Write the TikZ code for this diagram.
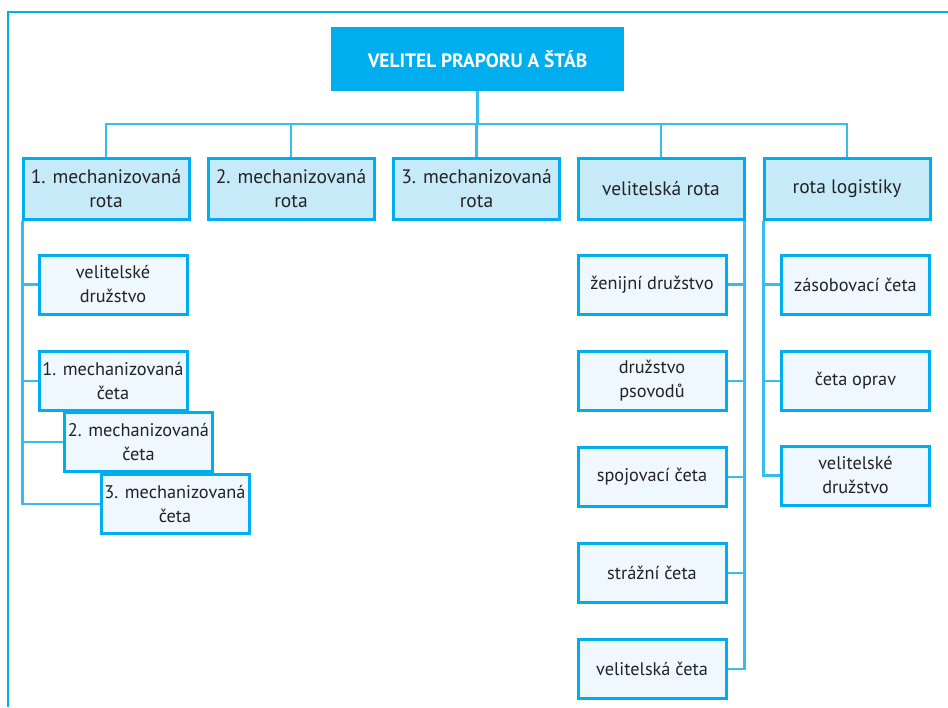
\documentclass[tikz,border=0pt]{standalone}
\usepackage{fontspec}
\setmainfont{PT Sans}
\usetikzlibrary{positioning}
\definecolor{chartCyan}{RGB}{0,174,239}
\definecolor{linkCyan}{RGB}{55,188,240}
\definecolor{unitFill}{RGB}{199,234,249}
\definecolor{subFill}{RGB}{239,248,254}
\definecolor{textGray}{RGB}{35,35,38}
\tikzstyle{orgChart} = [x = 1pt, y = -1pt, every node/.style={inner sep=0pt, align=center, text=textGray}]
\tikzstyle{topBox} = [fill=chartCyan, minimum width=293pt, minimum height=64pt, text=white, font=\fontsize{19.4}{23}\selectfont\bfseries]
\tikzstyle{unitBox} = [draw=chartCyan, fill=unitFill, line width=3pt, minimum width=166pt, minimum height=61pt, font=\fontsize{19.5}{24}\selectfont]
\tikzstyle{subBox} = [draw=chartCyan, fill=subFill, line width=3pt, minimum width=148pt, minimum height=59pt, font=\fontsize{18.3}{24}\selectfont]
\tikzstyle{linkLine} = [color=linkCyan, line width=2.1pt]
\tikzstyle{frameLine} = [color=chartCyan, line width=2.5pt]
\newcommand{\busY}{124}
\begin{document}
\begin{tikzpicture}[orgChart]
  \useasboundingbox (0,0) rectangle (948,707);
  \draw [frameLine] (8,707) -- (8,12) -- (948,12);

  % battalion and companies
  \node [topBox] (top) at (477.5,59) {VELITEL PRAPORU A ŠTÁB};
  \node [unitBox] (r1) at (106,188.5) {1. mechanizovaná\\rota};
  \node [unitBox] (r2) at (291,188.5) {2. mechanizovaná\\rota};
  \node [unitBox] (r3) at (476.5,188.5) {3. mechanizovaná\\rota};
  \node [unitBox] (r4) at (661,188.5) {velitelská rota};
  \node [unitBox] (r5) at (847,188.5) {rota logistiky};
  \coordinate (bus) at (0,\busY);
  \draw [linkLine] (top.south) -- (top.south |- bus);
  \draw [linkLine] (r1.north) -- (r1.north |- bus) -- (r5.north |- bus) -- (r5.north);
  \foreach \unit in {r2,r3,r4}
    \draw [linkLine] (\unit.north |- bus) -- (\unit.north);

  % 1. mechanizovana rota
  \node [subBox] (vd1) at (113,284.5) {velitelské\\družstvo};
  \node [subBox] (m1) at (113,381) {1. mechanizovaná\\četa};
  \node [subBox] (m2) at (138.5,442) {2. mechanizovaná\\četa};
  \node [subBox] (m3) at (175,504) {3. mechanizovaná\\četa};
  \coordinate (spine1) at ([xshift=1pt]r1.south west);
  \draw [linkLine] (spine1) |- (m3.west);
  \foreach \sub in {vd1,m1,m2}
    \draw [linkLine] (spine1 |- \sub.west) -- (\sub.west);

  % velitelska rota
  \node [subBox] (ze) at (652,284.5) {ženijní družstvo};
  \node [subBox] (ps) at (652,381) {družstvo\\psovodů};
  \node [subBox] (sp) at (652,477) {spojovací četa};
  \node [subBox] (st) at (652,573) {strážní četa};
  \node [subBox] (vc) at (652,669) {velitelská četa};
  \coordinate (spine4) at ([xshift=-1pt]r4.south east);
  \draw [linkLine] (spine4) |- (vc.east);
  \foreach \sub in {ze,ps,sp,st}
    \draw [linkLine] (spine4 |- \sub.east) -- (\sub.east);

  % rota logistiky
  \node [subBox] (zc) at (855.5,284.5) {zásobovací četa};
  \node [subBox] (co) at (855.5,381) {četa oprav};
  \node [subBox] (vd2) at (855.5,475.5) {velitelské\\družstvo};
  \coordinate (spine5) at ([xshift=1pt]r5.south west);
  \draw [linkLine] (spine5) |- (vd2.west);
  \foreach \sub in {zc,co}
    \draw [linkLine] (spine5 |- \sub.west) -- (\sub.west);
\end{tikzpicture}
\end{document}
